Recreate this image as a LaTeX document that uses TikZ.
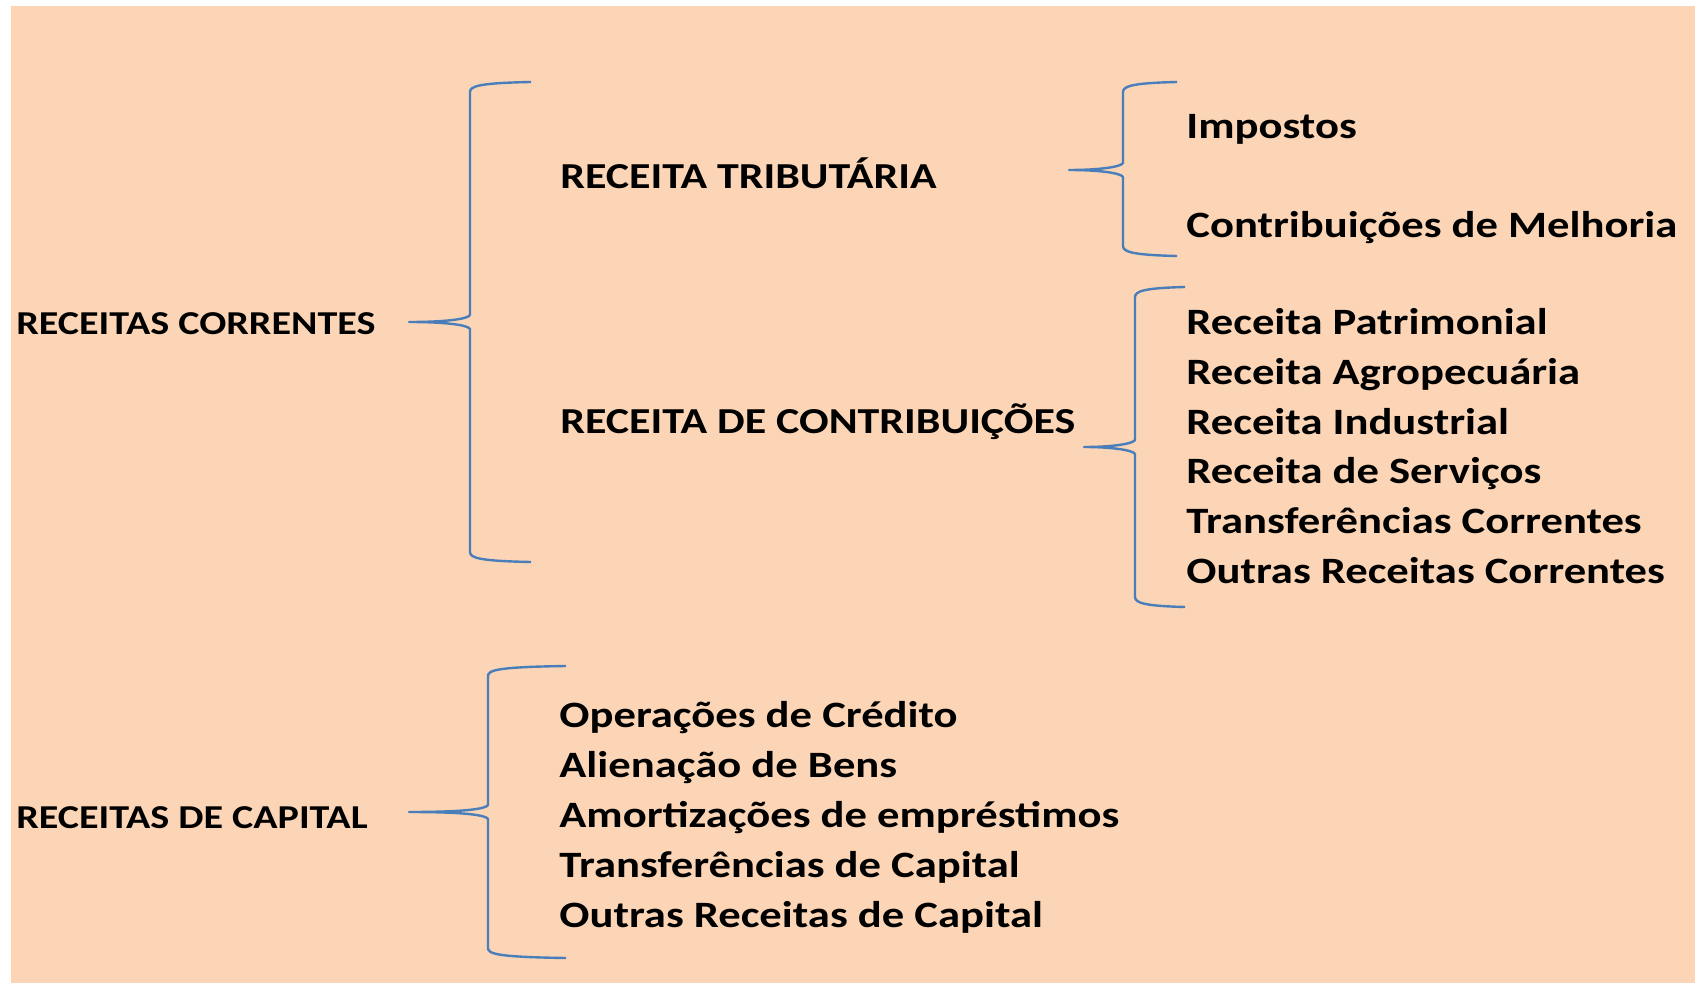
\documentclass[tikz,border=0pt]{standalone}
\usepackage{fontspec}
\setmainfont{Carlito}[FakeStretch=1.2]
\usepackage{tikz}
\usetikzlibrary{
    calc,
    positioning
}
\definecolor{pessego}{RGB}{251,213,181}
\definecolor{azulchave}{RGB}{74,126,187}
\tikzset{
    chave/.style={draw=azulchave, line width=1.2pt, line join=round},
    titulo/.style={font=\fontsize{16.7}{20}\selectfont\bfseries, anchor=base west, inner sep=0pt},
    subtitulo/.style={font=\fontsize{18.3}{22}\selectfont\bfseries, anchor=base west, inner sep=0pt},
    item/.style={font=\fontsize{18.6}{22}\selectfont\bfseries, anchor=base west, inner sep=0pt},
}
% chave: ponta, extremo de cima, extremo de baixo, eixo vertical
\newcommand{\chave}[4]{%
    \draw[chave] let \p1=(#1), \p2=(#2), \p3=(#3), \p4=(#4) in
        (\p2) .. controls (\x4+5pt,\y2-0.5pt) and (\x4,\y2-2pt) .. (\x4,\y2-5pt)
        -- (\x4,\y1+3.5pt) .. controls (\x4-1pt,\y1+1.5pt) and (\x4-12pt,\y1) .. (\p1)
        .. controls (\x4-12pt,\y1) and (\x4-1pt,\y1-1.5pt) .. (\x4,\y1-3.5pt)
        -- (\x4,\y3+5pt) .. controls (\x4,\y3+2pt) and (\x4+5pt,\y3+0.5pt) .. (\p3);
}

\begin{document}
\begin{tikzpicture}[x=0.5pt, y=-0.5pt]
    \useasboundingbox (0,0) rectangle (1695,983);
    \fill[pessego] (11,6) rectangle (1695,983);

    % receitas correntes
    \node[titulo] (correntes) at (16,335) {RECEITAS CORRENTES};
    \node[subtitulo] (tributaria) at (560,189) {RECEITA TRIBUTÁRIA};
    \node[subtitulo] (contribuicoes) at (560,434) {RECEITA DE CONTRIBUIÇÕES};
    \node[item] (impostos) at (1186,138.5) {Impostos};
    \node[item] (melhoria) at (1186,237.5) {Contribuições de Melhoria};
    \foreach \texto [count=\i from 0] in {Receita Patrimonial, Receita Agropecuária,
        Receita Industrial, Receita de Serviços, Transferências Correntes,
        Outras Receitas Correntes}
        \node[item] (corr\i) at (1186,{335+49.6*\i}) {\texto};

    % receitas de capital
    \node[titulo] (capital) at (16,828) {RECEITAS DE CAPITAL};
    \foreach \texto [count=\i from 0] in {Operações de Crédito, Alienação de Bens,
        Amortizações de empréstimos, Transferências de Capital,
        Outras Receitas de Capital}
        \node[item] (cap\i) at (559,{727+50*\i}) {\texto};

    % chaves
    \coordinate (p1) at (409,322);   \coordinate (a1) at (531,82);
    \coordinate (b1) at (531,562);   \coordinate (e1) at (470,0);
    \coordinate (p2) at (1069,170);  \coordinate (a2) at (1177,82);
    \coordinate (b2) at (1177,256);  \coordinate (e2) at (1123,0);
    \coordinate (p3) at (1084,447);  \coordinate (a3) at (1185,287);
    \coordinate (b3) at (1185,607);  \coordinate (e3) at (1135,0);
    \coordinate (p4) at (409,812);   \coordinate (a4) at (566,666);
    \coordinate (b4) at (566,958);   \coordinate (e4) at (488,0);
    \chave{p1}{a1}{b1}{e1}
    \chave{p2}{a2}{b2}{e2}
    \chave{p3}{a3}{b3}{e3}
    \chave{p4}{a4}{b4}{e4}
\end{tikzpicture}
\end{document}
